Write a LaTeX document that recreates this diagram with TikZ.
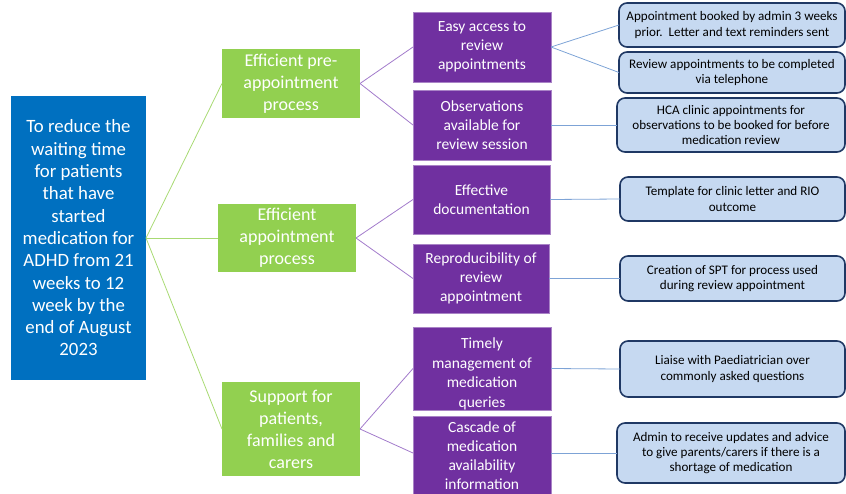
\documentclass[tikz,border=0pt]{standalone}
\usepackage{fontspec}
\setmainfont{Carlito}
\definecolor{aimblue}{HTML}{0070C0}
\definecolor{drivergreen}{HTML}{92D050}
\definecolor{driverpurple}{HTML}{7030A0}
\definecolor{ideablue}{HTML}{C6D9F1}
\definecolor{ideaedge}{HTML}{1F3864}
\definecolor{purpleline}{HTML}{A27BCB}
\definecolor{blueline}{HTML}{7DA3D6}

\begin{document}
\begin{tikzpicture}[x=1pt, y=-1pt,
	every node/.style={align=center, inner sep=0pt, outer sep=0pt},
	aim/.style={fill=aimblue, text=white, font=\fontsize{18.8}{22.3}\selectfont},
	primary/.style={fill=drivergreen, text=white, font=\fontsize{18}{22}\selectfont},
	secondary/.style={fill=driverpurple, draw=driverpurple!60!white, line width=0.6pt, text=white, font=\fontsize{15.5}{19}\selectfont},
	change/.style={fill=ideablue, draw=ideaedge, line width=1.6pt, rounded corners=8pt, font=\fontsize{13.1}{15.3}\selectfont},
	greenlink/.style={drivergreen!80!white, line width=0.8pt},
	purplelink/.style={purpleline, line width=0.8pt},
	bluelink/.style={blueline, line width=0.8pt}]
	\clip (0,0) rectangle (846,493);
	% aim
	\node[aim, minimum width=135, minimum height=284] (aim) at (78.5,238) {To reduce the\\waiting time\\for patients\\that have\\started\\medication for\\ADHD from 21\\weeks to 12\\week by the\\end of August\\2023};
	% primary drivers
	\node[primary, minimum width=138, minimum height=69] (pre) at (291,83.5) {Efficient pre-\\appointment\\process};
	\node[primary, minimum width=138, minimum height=68] (appt) at (287,238) {Efficient\\appointment\\process};
	\node[primary, minimum width=138, minimum height=94] (supp) at (291,429) {Support for\\patients,\\families and\\carers};
	% secondary drivers
	\node[secondary, minimum width=138, minimum height=70] (access) at (482,47) {Easy access to\\review\\appointments};
	\node[secondary, minimum width=138, minimum height=70] (obs) at (482,125) {Observations\\available for\\review session};
	\node[secondary, minimum width=137, minimum height=69] (doc) at (481.5,199.5) {Effective\\documentation};
	\node[secondary, minimum width=136, minimum height=69] (repro) at (481,278.5) {Reproducibility of\\review\\appointment};
	\node[secondary, minimum width=138, minimum height=81, font=\fontsize{15.5}{19.7}\selectfont] (timely) at (482,368.5) {\mbox{}\\[2pt]Timely\\management of\\medication\\queries};
	\node[secondary, minimum width=138, minimum height=80] (cascade) at (482,456) {Cascade of\\medication\\availability\\information};
	% change ideas
	\node[change, minimum width=226, minimum height=44] (booked) at (732,25) {Appointment booked by admin 3 weeks\\prior.\ \ Letter and text reminders sent};
	\node[change, minimum width=226, minimum height=41] (phone) at (732,72.5) {Review appointments to be completed\\via telephone};
	\node[change, minimum width=228, minimum height=54] (hca) at (731,125) {HCA clinic appointments for\\observations to be booked for before\\medication review};
	\node[change, minimum width=225, minimum height=44] (template) at (732.5,199) {Template for clinic letter and RIO\\outcome};
	\node[change, minimum width=225, minimum height=45] (spt) at (732.5,278.5) {Creation of SPT for process used\\during review appointment};
	\node[change, minimum width=225, minimum height=56] (liaise) at (732.5,369) {Liaise with Paediatrician over\\commonly asked questions};
	\node[change, minimum width=228, minimum height=60] (admin) at (731,453) {Admin to receive updates and advice\\to give parents/carers if there is a\\shortage of medication};
	% links
	\draw[greenlink] (aim.east) -- (pre.west);
	\draw[greenlink] (aim.east) -- (appt.west);
	\draw[greenlink] (aim.east) -- (supp.west);
	\draw[purplelink] (pre.east) -- (access.west);
	\draw[purplelink] (pre.east) -- (obs.west);
	\draw[purplelink] (appt.east) -- (doc.west);
	\draw[purplelink] (appt.east) -- (repro.west);
	\draw[purplelink] (supp.east) -- (timely.west);
	\draw[purplelink] (supp.east) -- (cascade.west |- 0,453);
	\draw[bluelink] (access.east) -- (booked.west);
	\draw[bluelink] (access.east) -- (phone.west);
	\draw[bluelink] (obs.east) -- (hca.west);
	\draw[bluelink] (doc.east) -- (template.west);
	\draw[bluelink] (repro.east) -- (spt.west);
	\draw[bluelink] (timely.east) -- (liaise.west);
	\draw[bluelink] (cascade.east |- 0,453) -- (admin.west);
\end{tikzpicture}
\end{document}
